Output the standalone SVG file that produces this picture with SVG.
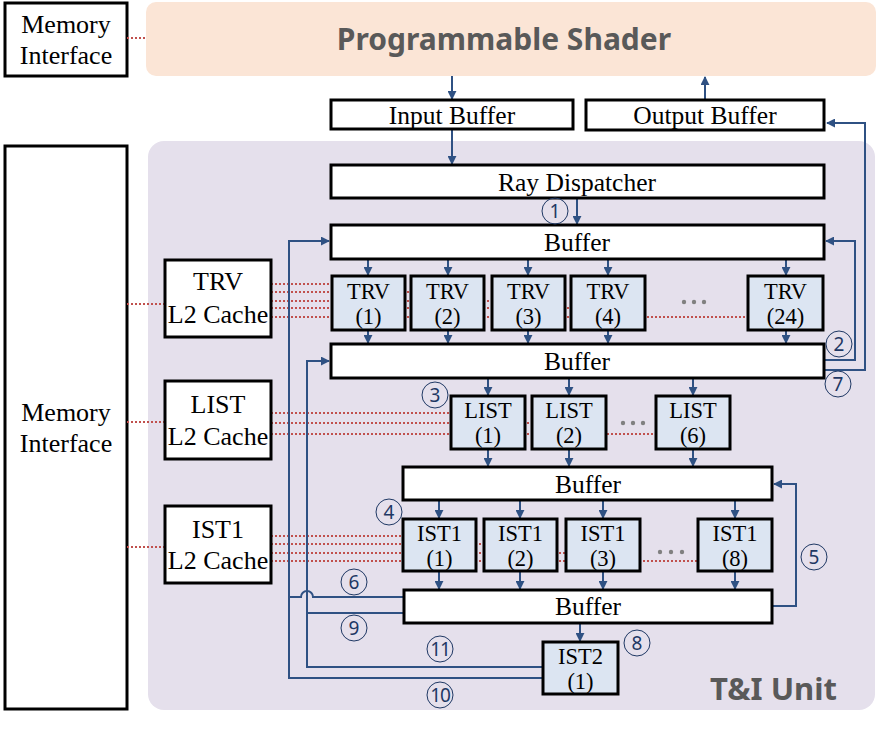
<svg xmlns="http://www.w3.org/2000/svg" width="877" height="731" viewBox="0 0 877 731">
<defs>
<marker id="ah" viewBox="0 0 10 10" refX="9" refY="5" markerWidth="4.5" markerHeight="4.5" orient="auto" markerUnits="strokeWidth">
<path d="M0,0 L10,5 L0,10 z" fill="#2f5183"/>
</marker>
<style>
.box{fill:#fff;stroke:#000;stroke-width:3}
.unit{fill:#dce5f2;stroke:#000;stroke-width:3}
.t{font-family:"Liberation Serif","Times New Roman",serif;font-size:22.5px;fill:#000;text-anchor:middle}
.tb{font-family:"Liberation Serif","Times New Roman",serif;font-size:25.5px;fill:#000;text-anchor:middle}
.tc{font-family:"Liberation Serif","Times New Roman",serif;font-size:26px;fill:#000;text-anchor:middle}
.ar{fill:none;stroke:#2f5183;stroke-width:2;marker-end:url(#ah)}
.ln{fill:none;stroke:#2f5183;stroke-width:2}
.dot{fill:none;stroke:#c0504d;stroke-width:2;stroke-dasharray:2 2}
.num circle{fill:none;stroke:#1f3864;stroke-width:1}
.num text{font-family:"Noto Sans","DejaVu Sans",sans-serif;font-size:19px;fill:#1f3864;text-anchor:middle}
.ell{fill:#808080}
.big{font-family:"Noto Sans","Open Sans",sans-serif;font-weight:bold;fill:#595959}
</style>
</defs>

<g id="shader">
<rect x="146" y="2" width="730" height="74" rx="10" fill="#fbe5d6"/>
<text class="big" x="504" y="50" font-size="30" text-anchor="middle">Programmable Shader</text>
</g>
<g id="mem-top">
<rect class="box" x="5" y="3" width="122" height="73"/>
<text class="tc" x="66" y="33">Memory</text>
<text class="tc" x="66" y="64">Interface</text>
</g>

<g id="ti-unit">
<rect x="148" y="141" width="727" height="569" rx="16" fill="#e5e0ec"/>
<text class="big" x="837" y="700" font-size="31" text-anchor="end">T&amp;I Unit</text>
</g>

<g id="mem-big">
<rect class="box" x="5" y="146" width="122" height="563"/>
<text class="tc" x="66" y="421">Memory</text>
<text class="tc" x="66" y="452">Interface</text>
</g>

<g id="dotted">
<line class="dot" x1="127" y1="38" x2="146" y2="38"/>
<line class="dot" x1="127" y1="304" x2="165" y2="304"/>
<line class="dot" x1="271" y1="284" x2="332" y2="284"/>
<line class="dot" x1="271" y1="292" x2="411" y2="292"/>
<line class="dot" x1="271" y1="301" x2="492" y2="301"/>
<line class="dot" x1="271" y1="308" x2="571" y2="308"/>
<line class="dot" x1="271" y1="317" x2="748" y2="317"/>
<line class="dot" x1="127" y1="422" x2="165" y2="422"/>
<line class="dot" x1="271" y1="413" x2="451" y2="413"/>
<line class="dot" x1="271" y1="423" x2="532" y2="423"/>
<line class="dot" x1="271" y1="434" x2="656" y2="434"/>
<line class="dot" x1="127" y1="547" x2="165" y2="547"/>
<line class="dot" x1="271" y1="536" x2="403" y2="536"/>
<line class="dot" x1="271" y1="544" x2="484" y2="544"/>
<line class="dot" x1="271" y1="553" x2="566" y2="553"/>
<line class="dot" x1="271" y1="561" x2="698" y2="561"/>
</g>

<g id="connectors">
<path class="ar" d="M452,76 V99"/>
<path class="ar" d="M705,100 V77"/>
<path class="ar" d="M452,129 V164"/>
<path class="ar" d="M577,198 V224"/>
<path class="ar" d="M368,259 V275"/>
<path class="ar" d="M448,259 V275"/>
<path class="ar" d="M528,259 V275"/>
<path class="ar" d="M608,259 V275"/>
<path class="ar" d="M786,259 V275"/>
<path class="ar" d="M368,330 V343"/>
<path class="ar" d="M448,330 V343"/>
<path class="ar" d="M528,330 V343"/>
<path class="ar" d="M608,330 V343"/>
<path class="ar" d="M786,330 V343"/>
<path class="ar" d="M488,378 V395"/>
<path class="ar" d="M569,378 V395"/>
<path class="ar" d="M693,378 V395"/>
<path class="ar" d="M488,449 V466"/>
<path class="ar" d="M569,449 V466"/>
<path class="ar" d="M693,449 V466"/>
<path class="ar" d="M439,500 V518"/>
<path class="ar" d="M520,500 V518"/>
<path class="ar" d="M603,500 V518"/>
<path class="ar" d="M735,500 V518"/>
<path class="ar" d="M439,571 V589"/>
<path class="ar" d="M520,571 V589"/>
<path class="ar" d="M603,571 V589"/>
<path class="ar" d="M735,571 V589"/>
<path class="ar" d="M580,623 V641"/>
<path class="ar" d="M824,360 H855 V241 H826"/>
<path class="ar" d="M824,370 H865 V123 H827"/>
<path class="ar" d="M772,606 H796 V484 H774"/>
<path class="ln" d="M404,597 H313 A6,6 0 0 0 301,597 H289"/>
<path class="ln" d="M404,613 H307"/>
<path class="ar" d="M543,667 H307 V361 H329"/>
<path class="ar" d="M543,678 H289 V241 H329"/>
</g>

<g id="input-buffer">
<rect class="box" x="331" y="100" width="242" height="29"/>
<text class="tb" x="452" y="123.5">Input Buffer</text>
</g>
<g id="output-buffer">
<rect class="box" x="586" y="100" width="238" height="30"/>
<text class="tb" x="705" y="124">Output Buffer</text>
</g>
<g id="ray-dispatcher">
<rect class="box" x="331" y="165" width="493" height="33"/>
<text class="tb" x="577" y="190.5">Ray Dispatcher</text>
</g>
<g id="buffer1">
<rect class="box" x="331" y="225" width="493" height="34"/>
<text class="tb" x="577" y="251">Buffer</text>
</g>
<g id="trv-cache">
<rect class="box" x="165" y="260" width="106" height="77"/>
<text class="tc" x="218" y="290">TRV</text>
<text class="tc" x="218" y="323">L2 Cache</text>
</g>
<g id="trv1"><rect class="unit" x="332" y="276" width="73" height="54"/><text class="t" x="368.5" y="299">TRV</text><text class="t" x="368.5" y="324">(1)</text></g>
<g id="trv2"><rect class="unit" x="411" y="276" width="73" height="54"/><text class="t" x="447.5" y="299">TRV</text><text class="t" x="447.5" y="324">(2)</text></g>
<g id="trv3"><rect class="unit" x="492" y="276" width="73" height="54"/><text class="t" x="528.5" y="299">TRV</text><text class="t" x="528.5" y="324">(3)</text></g>
<g id="trv4"><rect class="unit" x="571" y="276" width="74" height="54"/><text class="t" x="608" y="299">TRV</text><text class="t" x="608" y="324">(4)</text></g>
<g id="trv-ellipsis"><circle class="ell" cx="684" cy="302" r="2.2"/><circle class="ell" cx="694" cy="302" r="2.2"/><circle class="ell" cx="704" cy="302" r="2.2"/></g>
<g id="trv24"><rect class="unit" x="748" y="276" width="75" height="54"/><text class="t" x="785.5" y="299">TRV</text><text class="t" x="785.5" y="324">(24)</text></g>

<g id="buffer2">
<rect class="box" x="331" y="344" width="493" height="34"/>
<text class="tb" x="577" y="370">Buffer</text>
</g>
<g id="list-cache">
<rect class="box" x="165" y="381" width="106" height="78"/>
<text class="tc" x="218" y="413">LIST</text>
<text class="tc" x="218" y="445">L2 Cache</text>
</g>
<g id="list1"><rect class="unit" x="451" y="396" width="74" height="53"/><text class="t" x="488" y="418">LIST</text><text class="t" x="488" y="443">(1)</text></g>
<g id="list2"><rect class="unit" x="532" y="396" width="74" height="53"/><text class="t" x="569" y="418">LIST</text><text class="t" x="569" y="443">(2)</text></g>
<g id="list-ellipsis"><circle class="ell" cx="623" cy="423" r="2.2"/><circle class="ell" cx="633" cy="423" r="2.2"/><circle class="ell" cx="643" cy="423" r="2.2"/></g>
<g id="list6"><rect class="unit" x="656" y="396" width="74" height="53"/><text class="t" x="693" y="418">LIST</text><text class="t" x="693" y="443">(6)</text></g>

<g id="buffer3">
<rect class="box" x="403" y="467" width="369" height="33"/>
<text class="tb" x="588" y="492.5">Buffer</text>
</g>
<g id="ist1-cache">
<rect class="box" x="165" y="506" width="106" height="77"/>
<text class="tc" x="218" y="538">IST1</text>
<text class="tc" x="218" y="569">L2 Cache</text>
</g>
<g id="ist1-1"><rect class="unit" x="403" y="519" width="73" height="52"/><text class="t" x="439.5" y="541">IST1</text><text class="t" x="439.5" y="566">(1)</text></g>
<g id="ist1-2"><rect class="unit" x="484" y="519" width="73" height="52"/><text class="t" x="520.5" y="541">IST1</text><text class="t" x="520.5" y="566">(2)</text></g>
<g id="ist1-3"><rect class="unit" x="566" y="519" width="74" height="52"/><text class="t" x="603" y="541">IST1</text><text class="t" x="603" y="566">(3)</text></g>
<g id="ist1-ellipsis"><circle class="ell" cx="660" cy="552" r="2.2"/><circle class="ell" cx="671" cy="552" r="2.2"/><circle class="ell" cx="682" cy="552" r="2.2"/></g>
<g id="ist1-8"><rect class="unit" x="698" y="519" width="74" height="52"/><text class="t" x="735" y="541">IST1</text><text class="t" x="735" y="566">(8)</text></g>

<g id="buffer4">
<rect class="box" x="404" y="590" width="368" height="33"/>
<text class="tb" x="588" y="615">Buffer</text>
</g>
<g id="ist2">
<rect class="unit" x="543" y="642" width="75" height="52"/>
<text class="t" x="580.5" y="664">IST2</text>
<text class="t" x="580.5" y="689">(1)</text>
</g>

<g id="step-labels" class="num">
<circle cx="555" cy="211" r="13"/><text x="555" y="218">1</text>
<circle cx="839" cy="344" r="13"/><text x="839" y="351">2</text>
<circle cx="435" cy="395" r="13"/><text x="435" y="402">3</text>
<circle cx="389" cy="512" r="13"/><text x="389" y="519">4</text>
<circle cx="814" cy="557" r="13"/><text x="814" y="564">5</text>
<circle cx="354" cy="582" r="13"/><text x="354" y="589">6</text>
<circle cx="838" cy="384" r="13"/><text x="838" y="391">7</text>
<circle cx="637" cy="643" r="13"/><text x="637" y="650">8</text>
<circle cx="354" cy="628" r="13"/><text x="354" y="635">9</text>
<circle cx="440" cy="695" r="13"/><text x="440" y="702" font-size="17" letter-spacing="-1">10</text>
<circle cx="440" cy="649" r="13"/><text x="440" y="656" font-size="17" letter-spacing="-1">11</text>
</g>
</svg>
